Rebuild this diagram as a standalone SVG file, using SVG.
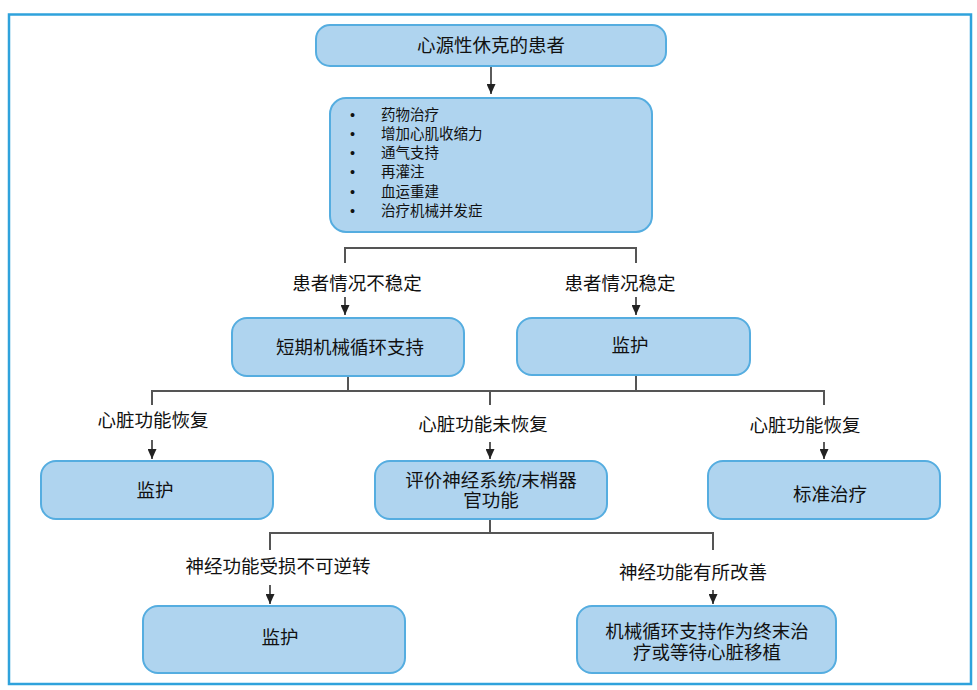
<svg xmlns="http://www.w3.org/2000/svg" width="977" height="690" viewBox="0 0 977 690">
<defs>
<style>
.box{fill:#afd4ef;stroke:#55ade0;stroke-width:2}
.t{font-family:"Liberation Sans","Noto Sans CJK SC",sans-serif;font-size:18.5px;fill:#111;text-anchor:middle}
.l{font-family:"Liberation Sans","Noto Sans CJK SC",sans-serif;font-size:14.5px;fill:#111}
.c{fill:none;stroke:#555;stroke-width:2}
.a{fill:none;stroke:#333;stroke-width:1.6;marker-end:url(#ah)}
</style>
<marker id="ah" markerWidth="10" markerHeight="9" refX="10" refY="4.5" orient="auto" markerUnits="userSpaceOnUse" viewBox="0 0 10 9">
<path d="M0,0 L10,4.5 L0,9 Z" fill="#222"/>
</marker>
</defs>
<rect width="977" height="690" fill="#fff"/>
<rect x="9" y="14.5" width="962" height="669.5" fill="none" stroke="#2fa2dc" stroke-width="2.5"/>

<g id="connectors">
<path class="a" d="M491,67 V94"/>
<path class="c" d="M345,263 V248 H636 V263"/>
<path class="a" d="M345,297 V315"/>
<path class="a" d="M636,297 V315"/>
<path class="c" d="M348,376 V391 M636,375 V391 M152,405 V391 H824 V405 M490,391 V405"/>
<path class="a" d="M152,440 V459"/>
<path class="a" d="M490,442 V459"/>
<path class="a" d="M824,442 V459"/>
<path class="c" d="M490,519 V533 M270,550 V533 H713 V550"/>
<path class="a" d="M270,585 V604"/>
<path class="a" d="M713,590 V604"/>
</g>

<g id="n1"><rect class="box" x="316" y="25" width="350" height="41" rx="14"/><text class="t" x="491" y="52">心源性休克的患者</text></g>
<g id="n2"><rect class="box" x="330" y="98" width="322" height="134" rx="16"/>
<text class="l"><tspan x="350" y="120">•</tspan><tspan x="350" y="139">•</tspan><tspan x="350" y="158">•</tspan><tspan x="350" y="177">•</tspan><tspan x="350" y="197">•</tspan><tspan x="350" y="216">•</tspan></text>
<text class="l"><tspan x="381" y="120">药物治疗</tspan><tspan x="381" y="139">增加心肌收缩力</tspan><tspan x="381" y="158">通气支持</tspan><tspan x="381" y="177">再灌注</tspan><tspan x="381" y="197">血运重建</tspan><tspan x="381" y="216">治疗机械并发症</tspan></text>
</g>

<g id="lbl-unstable"><text class="t" x="357" y="290">患者情况不稳定</text></g>
<g id="lbl-stable"><text class="t" x="620" y="290">患者情况稳定</text></g>

<g id="n3"><rect class="box" x="232" y="318" width="232" height="58" rx="15"/><text class="t" x="350" y="354">短期机械循环支持</text></g>
<g id="n4"><rect class="box" x="517" y="318" width="233" height="57" rx="15"/><text class="t" x="630" y="352">监护</text></g>

<g id="lbl-r1"><text class="t" x="153" y="427">心脏功能恢复</text></g>
<g id="lbl-r2"><text class="t" x="483" y="431">心脏功能未恢复</text></g>
<g id="lbl-r3"><text class="t" x="805" y="432">心脏功能恢复</text></g>

<g id="n5"><rect class="box" x="41" y="461" width="232" height="58" rx="15"/><text class="t" x="155" y="497">监护</text></g>
<g id="n6"><rect class="box" x="375" y="461" width="232" height="58" rx="15"/><text class="t"><tspan x="491" y="487">评价神经系统/末梢器</tspan><tspan x="491" y="507">官功能</tspan></text></g>
<g id="n7"><rect class="box" x="708" y="461" width="232" height="58" rx="15"/><text class="t" x="830" y="501">标准治疗</text></g>

<g id="lbl-n1"><text class="t" x="278" y="573">神经功能受损不可逆转</text></g>
<g id="lbl-n2"><text class="t" x="693" y="579">神经功能有所改善</text></g>

<g id="n8"><rect class="box" x="143" y="606" width="262" height="67" rx="15"/><text class="t" x="280" y="644">监护</text></g>
<g id="n9"><rect class="box" x="577" y="606" width="259" height="67" rx="15"/><text class="t"><tspan x="707" y="638">机械循环支持作为终末治</tspan><tspan x="707" y="659">疗或等待心脏移植</tspan></text></g>
</svg>
